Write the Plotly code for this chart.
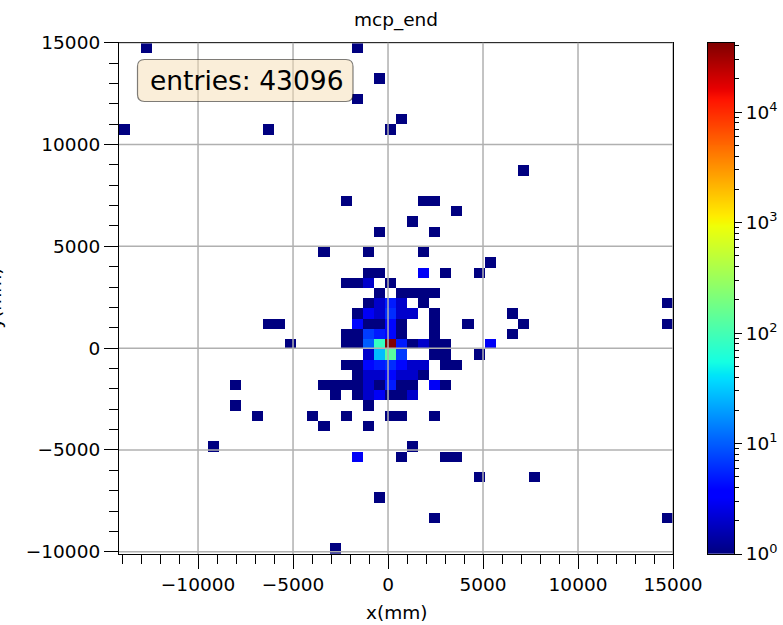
import numpy as np
import plotly.graph_objects as go

# ---------------------------------------------------------------- data
ENTRIES = 43096
N_BINS = 50
X_EDGE_MIN, X_EDGE_MAX = -14160.0, 15000.0
Y_EDGE_MIN, Y_EDGE_MAX = -10110.0, 15000.0

# occupied bins of the 50x50 histogram: column index, row index, count
bin_ix = [2, 21, 23, 21, 0, 13, 24, 25, 36, 20, 27, 28, 30, 26, 23, 28, 18, 22, 27, 33,
          22, 23, 27, 29, 32,
          20, 21, 22, 24,
          23, 25, 26, 27, 28,
          22, 23, 24, 25, 27, 49,
          21, 22, 23, 24, 25, 26, 28, 35,
          13, 14, 21, 22, 23, 24, 25, 28, 31, 36, 49,
          20, 21, 22, 23, 24, 25, 28, 35,
          15, 20, 21, 22, 23, 24, 25, 26, 27, 28, 29, 33,
          22, 23, 24, 25, 28, 29, 32,
          20, 21, 22, 23, 24, 25, 26, 27, 29, 30,
          21, 22, 23, 24, 25, 26, 27,
          10, 18, 19, 20, 21, 22, 23, 24, 25, 26, 28, 29,
          19, 21, 22, 23, 24, 25, 26,
          10, 22,
          12, 17, 20, 24, 25, 28,
          18, 22,
          8, 26,
          21, 25, 29, 30,
          32, 37,
          23,
          28, 49,
          19]
bin_iy = [49, 49, 46, 44, 41, 41, 41, 42, 37, 34, 34, 34, 33, 32, 31, 31, 29, 29, 29, 28,
          27, 27, 27, 27, 27,
          26, 26, 26, 26,
          25, 25, 25, 25, 25,
          24, 24, 24, 24, 24, 24,
          23, 23, 23, 23, 23, 23, 23, 23,
          22, 22, 22, 22, 22, 22, 22, 22, 22, 22, 22,
          21, 21, 21, 21, 21, 21, 21, 21,
          20, 20, 20, 20, 20, 20, 20, 20, 20, 20, 20, 20,
          19, 19, 19, 19, 19, 19, 19,
          18, 18, 18, 18, 18, 18, 18, 18, 18, 18,
          17, 17, 17, 17, 17, 17, 17,
          16, 16, 16, 16, 16, 16, 16, 16, 16, 16, 16, 16,
          15, 15, 15, 15, 15, 15, 15,
          14, 14,
          13, 13, 13, 13, 13, 13,
          12, 12,
          10, 10,
          9, 9, 9, 9,
          7, 7,
          5,
          3, 3,
          0]
bin_count = [1, 1, 1, 1, 1, 1, 1, 1, 1, 1, 1, 1, 1, 1, 1, 1, 1, 1, 1, 1,
             1, 1, 3, 1, 1,
             1, 1, 2, 1,
             1, 1, 1, 1, 1,
             1, 2, 5, 2, 1, 1,
             1, 3, 2, 6, 2, 2, 1, 1,
             1, 1, 4, 1, 1, 4, 1, 1, 1, 1, 1,
             1, 1, 7, 5, 4, 1, 1, 1,
             1, 1, 1, 10, 84, 42617, 5, 1, 2, 1, 1, 3,
             2, 27, 130, 7, 1, 1, 1,
             1, 1, 4, 5, 6, 4, 2, 2, 1, 1,
             1, 2, 2, 4, 2, 2, 1,
             1, 1, 1, 1, 1, 2, 1, 5, 1, 1, 3, 1,
             1, 1, 2, 3, 1, 1, 2,
             1, 1,
             1, 1, 1, 1, 1, 1,
             1, 1,
             1, 1,
             3, 1, 1, 1,
             1, 1,
             1,
             1, 1,
             1]

x_ticks = [-10000, -5000, 0, 5000, 10000, 15000]
y_ticks = [-10000, -5000, 0, 5000, 10000, 15000]
cbar_decades = [0, 1, 2, 3, 4]

# ---------------------------------------------------------------- geometry
W, H = 783, 625
PX_L, PX_R, PX_T, PX_B = 119, 673, 42.7, 554
CB_L, CB_R = 708, 734
FONT = "DejaVu Sans"


def fx(px):
    return px / W


def fy(py):
    return 1 - py / H


def jet_colorscale():
    red = [(0, 0), (0.35, 0), (0.66, 1), (0.89, 1), (1, 0.5)]
    green = [(0, 0), (0.125, 0), (0.375, 1), (0.64, 1), (0.91, 0), (1, 0)]
    blue = [(0, 0.5), (0.11, 1), (0.34, 1), (0.65, 0), (1, 0)]
    stops = sorted({p for seg in (red, green, blue) for p, _ in seg})
    scale = []
    for s in stops:
        rgb = [np.interp(s, [p for p, _ in seg], [v for _, v in seg]) for seg in (red, green, blue)]
        scale.append([s, "rgb(%d,%d,%d)" % tuple(round(255 * c) for c in rgb)])
    return scale


JET = jet_colorscale()

x_edges = np.linspace(X_EDGE_MIN, X_EDGE_MAX, N_BINS + 1)
y_edges = np.linspace(Y_EDGE_MIN, Y_EDGE_MAX, N_BINS + 1)
grid = np.full((N_BINS, N_BINS), np.nan)
for i, j, c in zip(bin_ix, bin_iy, bin_count):
    grid[j, i] = np.log10(c)

z_max = np.log10(max(bin_count))

fig = go.Figure()

fig.add_trace(go.Heatmap(
    x=x_edges, y=y_edges, z=grid,
    zmin=0, zmax=z_max, colorscale=JET, showscale=False,
    hoverinfo="skip", xaxis="x", yaxis="y",
))

# colour bar drawn as its own narrow heatmap with a log-decade axis
cb_edges = np.linspace(0, z_max, 513)
cb_mid = 0.5 * (cb_edges[:-1] + cb_edges[1:])
fig.add_trace(go.Heatmap(
    x=[0, 1], y=cb_edges, z=cb_mid.reshape(-1, 1),
    zmin=0, zmax=z_max, colorscale=JET, showscale=False,
    hoverinfo="skip", xaxis="x2", yaxis="y2",
))

minor_x = [v for v in range(-14000, 15001, 1000) if v % 5000]
minor_y = [v for v in range(-10000, 15001, 1000) if v % 5000]
cb_minor = [d + np.log10(k) for d in range(0, 5) for k in range(2, 10) if d + np.log10(k) <= z_max]

axis_common = dict(
    showline=True, linecolor="black", linewidth=1.2, mirror=True,
    ticks="outside", ticklen=14, tickwidth=1.2, tickcolor="black",
    showgrid=False, zeroline=False, layer="above traces", automargin=False,
    tickfont=dict(family=FONT, size=18.5, color="black"),
)


def signed(v):
    return "\u2212%d" % -v if v < 0 else "%d" % v


fig.update_layout(
    width=W, height=H,
    margin=dict(l=0, r=0, t=0, b=0, autoexpand=False),
    paper_bgcolor="white", plot_bgcolor="white",
    showlegend=False,
    xaxis=dict(
        axis_common, domain=[fx(PX_L), fx(PX_R)], range=[X_EDGE_MIN, X_EDGE_MAX],
        tickmode="array", tickvals=x_ticks, ticktext=[signed(v) for v in x_ticks],
        minor=dict(tickmode="array", tickvals=minor_x, ticks="outside", ticklen=9,
                   tickwidth=1.2, tickcolor="black", showgrid=False),
        anchor="y",
    ),
    yaxis=dict(
        axis_common, domain=[fy(PX_B), fy(PX_T)], range=[Y_EDGE_MIN, Y_EDGE_MAX],
        tickmode="array", tickvals=y_ticks, ticktext=[signed(v) for v in y_ticks],
        minor=dict(tickmode="array", tickvals=minor_y, ticks="outside", ticklen=9,
                   tickwidth=1.2, tickcolor="black", showgrid=False),
        anchor="x",
    ),
    xaxis2=dict(
        domain=[fx(CB_L), fx(CB_R)], range=[0, 1], anchor="y2", automargin=False,
        showline=True, linecolor="black", linewidth=1.2, mirror=True,
        showticklabels=False, ticks="", showgrid=False, zeroline=False, layer="above traces",
    ),
    yaxis2=dict(
        domain=[fy(PX_B), fy(PX_T)], range=[0, z_max], anchor="x2", side="right",
        automargin=False,
        showline=True, linecolor="black", linewidth=1.2, mirror=True,
        showgrid=False, zeroline=False, layer="above traces",
        tickmode="array", tickvals=cbar_decades,
        ticktext=["10<sup>%d</sup>" % d for d in cbar_decades],
        ticks="outside", ticklen=7, tickwidth=1.2, tickcolor="black",
        tickfont=dict(family=FONT, size=18.5, color="black"),
        minor=dict(tickmode="array", tickvals=cb_minor, ticks="outside", ticklen=4,
                   tickwidth=1, tickcolor="black", showgrid=False),
    ),
    title=dict(text="mcp_end", x=fx((PX_L + PX_R) / 2), xanchor="center",
               y=fy(20), yanchor="middle", font=dict(family=FONT, size=18.5, color="black")),
)

# grid lines sit on top of the bins
shapes = []
for v in x_ticks:
    shapes.append(dict(type="line", xref="x", yref="y domain", x0=v, x1=v, y0=0, y1=1,
                       line=dict(color="#b0b0b0", width=1.5), layer="above"))
for v in y_ticks:
    shapes.append(dict(type="line", xref="x domain", yref="y", x0=0, x1=1, y0=v, y1=v,
                       line=dict(color="#b0b0b0", width=1.5), layer="above"))

# rounded, semi-transparent stats box
bx0, bx1, by0, by1, r = 137.5, 353, 59.5, 101.5, 7


def p(x, y):
    return "%.5f,%.5f" % (fx(x), fy(y))


path = ("M " + p(bx0 + r, by0) + " L " + p(bx1 - r, by0) +
        " Q " + p(bx1, by0) + " " + p(bx1, by0 + r) +
        " L " + p(bx1, by1 - r) + " Q " + p(bx1, by1) + " " + p(bx1 - r, by1) +
        " L " + p(bx0 + r, by1) + " Q " + p(bx0, by1) + " " + p(bx0, by1 - r) +
        " L " + p(bx0, by0 + r) + " Q " + p(bx0, by0) + " " + p(bx0 + r, by0) + " Z")
shapes.append(dict(type="path", xref="paper", yref="paper", path=path,
                   fillcolor="rgba(245,222,179,0.5)", line=dict(color="rgba(0,0,0,0.5)", width=1.2),
                   layer="above"))
fig.update_layout(shapes=shapes)

fig.add_annotation(
    text="entries: %d" % ENTRIES, xref="paper", yref="paper",
    x=fx(147.5), y=fy((by0 + by1) / 2), xanchor="left", yanchor="middle",
    showarrow=False, font=dict(family=FONT, size=26.5, color="black"),
)
fig.add_annotation(
    text="x(mm)", xref="paper", yref="paper",
    x=fx((PX_L + PX_R) / 2), y=fy(612), xanchor="center", yanchor="middle",
    showarrow=False, font=dict(family=FONT, size=18.5, color="black"),
)
fig.add_annotation(
    text="y(mm)", xref="paper", yref="paper", textangle=-90,
    x=fx(7), y=fy((PX_T + PX_B) / 2), xanchor="right", yanchor="middle",
    showarrow=False, font=dict(family=FONT, size=18.5, color="black"),
)

fig.write_html("out.html")
